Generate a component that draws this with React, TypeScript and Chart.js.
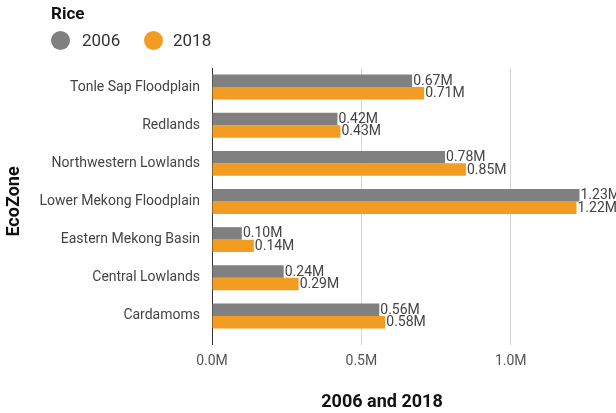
import React, { useEffect, useRef } from "react";
import Chart from "chart.js/auto";

const categories = [
  "Tonle Sap Floodplain",
  "Redlands",
  "Northwestern Lowlands",
  "Lower Mekong Floodplain",
  "Eastern Mekong Basin",
  "Central Lowlands",
  "Cardamoms",
];
const seriesNames = ["2006", "2018"];
const values2006 = [670000, 420000, 780000, 1230000, 100000, 240000, 560000];
const values2018 = [710000, 430000, 850000, 1220000, 140000, 290000, 580000];
const seriesColors = ["#808080", "#f39c22"];
const legendTitle = "Rice";
const xTitle = "2006 and 2018";
const yTitle = "EcoZone";
const xTickValues = [0, 500000, 1000000];
const xMax = 1138000;

const FONT = "Roboto, 'Noto Sans', sans-serif";

const valueLabelPlugin = {
  id: "valueLabels",
  afterDatasetsDraw(chart: any) {
    const ctx = chart.ctx;
    ctx.save();
    ctx.font = `14px ${FONT}`;
    ctx.fillStyle = "#444444";
    ctx.textAlign = "left";
    ctx.textBaseline = "middle";
    chart.data.datasets.forEach((ds: any, di: number) => {
      const meta = chart.getDatasetMeta(di);
      meta.data.forEach((el: any, i: number) => {
        const v = ds.data[i] as number;
        ctx.fillText((v / 1e6).toFixed(2) + "M", el.x + 1, el.y + 0.5);
      });
    });
    ctx.restore();
  },
};

export default function App() {
  const ref = useRef<HTMLCanvasElement>(null);

  useEffect(() => {
    document.body.style.margin = "0";
    const canvas = ref.current!;
    const chart = new Chart(canvas, {
      type: "bar",
      data: {
        labels: categories,
        datasets: [
          {
            label: seriesNames[0],
            data: values2006,
            backgroundColor: seriesColors[0],
            categoryPercentage: 0.654,
            barPercentage: 1,
            clip: false,
          },
          {
            label: seriesNames[1],
            data: values2018,
            backgroundColor: seriesColors[1],
            categoryPercentage: 0.654,
            barPercentage: 1,
            clip: false,
          },
        ],
      },
      options: {
        indexAxis: "y",
        responsive: false,
        maintainAspectRatio: false,
        animation: false,
        layout: { padding: { top: 68, left: 0, right: 64, bottom: 0 } },
        plugins: {
          legend: { display: false },
          tooltip: { enabled: false },
        },
        scales: {
          x: {
            min: 0,
            max: xMax,
            afterBuildTicks: (s: any) => {
              s.ticks = xTickValues.map((v) => ({ value: v }));
            },
            ticks: {
              padding: 8,
              color: "#555555",
              font: { family: FONT, size: 14 },
              callback: (v: any) => (Number(v) / 1e6).toFixed(1) + "M",
            },
            grid: {
              color: (c: any) => (c.tick && c.tick.value === 0 ? "#333333" : "#d6d6d6"),
              tickColor: (c: any) => (c.tick && c.tick.value === 0 ? "#333333" : "#d6d6d6"),
              tickLength: 10,
              lineWidth: 1,
            },
            border: { display: false },
            title: {
              display: true,
              text: xTitle,
              color: "#111111",
              font: { family: FONT, size: 18, weight: "bold" },
              padding: { top: 0, bottom: 0 },
            },
            afterFit: (s: any) => {
              s.height = 78;
            },
          },
          y: {
            grid: { display: false, drawTicks: false },
            border: { display: true, color: "#333333", width: 1 },
            ticks: {
              padding: 12,
              color: "#444444",
              font: { family: FONT, size: 14 },
            },
            title: {
              display: true,
              text: yTitle,
              color: "#111111",
              font: { family: FONT, size: 18, weight: "bold" },
              padding: { top: 4, bottom: 0 },
            },
            afterFit: (s: any) => {
              s.width = 212;
            },
          },
        },
      } as any,
      plugins: [valueLabelPlugin],
    });
    return () => chart.destroy();
  }, []);

  const itemStyle = (left: number): React.CSSProperties => ({
    position: "absolute",
    left,
    top: 30,
    height: 20,
    lineHeight: "20px",
    fontFamily: FONT,
    fontSize: 17,
    color: "#333333",
  });
  const dotStyle = (left: number, color: string): React.CSSProperties => ({
    position: "absolute",
    left,
    top: 30.5,
    width: 19,
    height: 19,
    borderRadius: "50%",
    background: color,
  });

  return (
    <div style={{ position: "relative", width: 616, height: 413, overflow: "hidden" }}>
      <canvas ref={ref} width={616} height={413} style={{ display: "block" }} />
      <div
        style={{
          position: "absolute",
          left: 51,
          top: 3,
          lineHeight: "20px",
          fontFamily: FONT,
          fontSize: 17,
          fontWeight: "bold",
          color: "#111111",
        }}
      >
        {legendTitle}
      </div>
      <div style={dotStyle(51, seriesColors[0])} />
      <div style={itemStyle(82)}>{seriesNames[0]}</div>
      <div style={dotStyle(144, seriesColors[1])} />
      <div style={itemStyle(173)}>{seriesNames[1]}</div>
    </div>
  );
}
